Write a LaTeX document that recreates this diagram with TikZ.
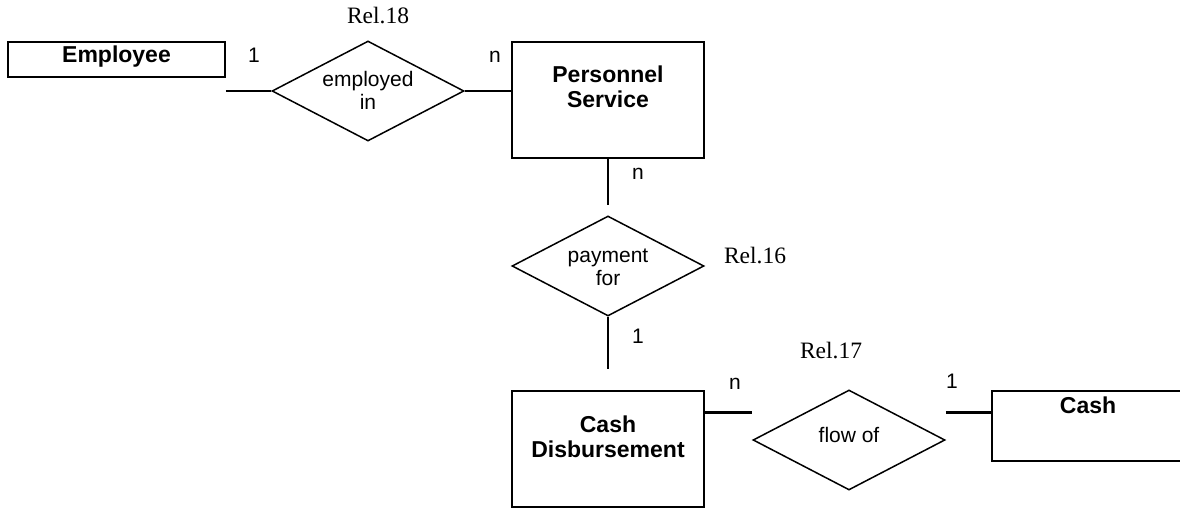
\documentclass[tikz,border=0pt]{standalone}
\usepackage{fontspec}
\setmainfont{Liberation Serif}
\setsansfont{Liberation Sans}
\usetikzlibrary{shapes.geometric,calc}
\begin{document}
\begin{tikzpicture}[x=1pt,y=-1pt,
  entity/.style={draw, line width=1.5pt, rectangle, inner sep=0pt},
  relation/.style={draw, line width=1.5pt, diamond, minimum width=192pt, minimum height=100pt, inner sep=0pt},
  link/.style={line width=2.5pt},
  etitle/.style={font=\sffamily\bfseries\fontsize{23}{25}\selectfont, align=center, inner sep=0pt, anchor=base},
  rtext/.style={font=\sffamily\fontsize{21}{23}\selectfont, align=center, inner sep=0pt, anchor=base},
  card/.style={font=\sffamily\fontsize{21}{23}\selectfont, inner sep=0pt, anchor=base},
  relno/.style={font=\rmfamily\fontsize{23.5}{26}\selectfont, inner sep=0pt, anchor=base}]
\useasboundingbox (0,0) rectangle (1180,508);

% entities
\node[entity, minimum width=217pt, minimum height=35pt] (emp) at (116.5,59.5) {};
\node[entity, minimum width=192pt, minimum height=116pt] (ps) at (608,100) {};
\node[entity, minimum width=192pt, minimum height=116pt] (cd) at (608,449) {};
\node[entity, minimum width=192pt, minimum height=70pt] (cash) at (1088,426) {};

% entity titles (base anchor sits on the last line)
\node[etitle] (emp-t) at (116.5,63) {Employee};
\node[etitle] (ps-t) at (608,108) {Personnel\\Service};
\node[etitle] (cd-t) at (608,457) {Cash\\Disbursement};
\node[etitle] (cash-t) at (1088,413) {Cash};

% relationships
\node[relation] (empl) at (368,91) {};
\node[relation] (pay) at (608,266) {};
\node[relation] (flow) at (849,440) {};

\node[rtext] (empl-t) at (368,110) {employed\\in};
\node[rtext] (pay-t) at (608,285) {payment\\for};
\node[rtext] (flow-t) at (849,442) {flow of};

\node[relno] (r18) at (378,24) {Rel.18};
\node[relno] (r16) at (755,263) {Rel.16};
\node[relno] (r17) at (831,358) {Rel.17};

% connectors
\draw[link] (emp.east |- empl.west) -- (empl.west);
\draw[link] (empl.east) -- (ps.west |- empl.east);
\coordinate (ps-stub) at ($(ps.south)+(0,46)$);
\draw[link] (ps.south) -- (ps-stub);
\coordinate (pay-stub) at ($(pay.south)+(0,52)$);
\draw[link] (pay.south) -- (pay-stub);
\coordinate (cd-out) at ($(cd.north east)+(0,22)$);
\draw[link] (cd-out) -- (cd-out -| flow.west);
\draw[link] (flow.east |- cd-out) -- (cash.west |- cd-out);

% cardinalities
\node[card] (c1) at (254,63) {1};
\node[card] (c2) at (495,63) {n};
\node[card] (c3) at (638,179) {n};
\node[card] (c4) at (638,343) {1};
\node[card] (c5) at (735,389) {n};
\node[card] (c6) at (952,388) {1};
\end{tikzpicture}
\end{document}
